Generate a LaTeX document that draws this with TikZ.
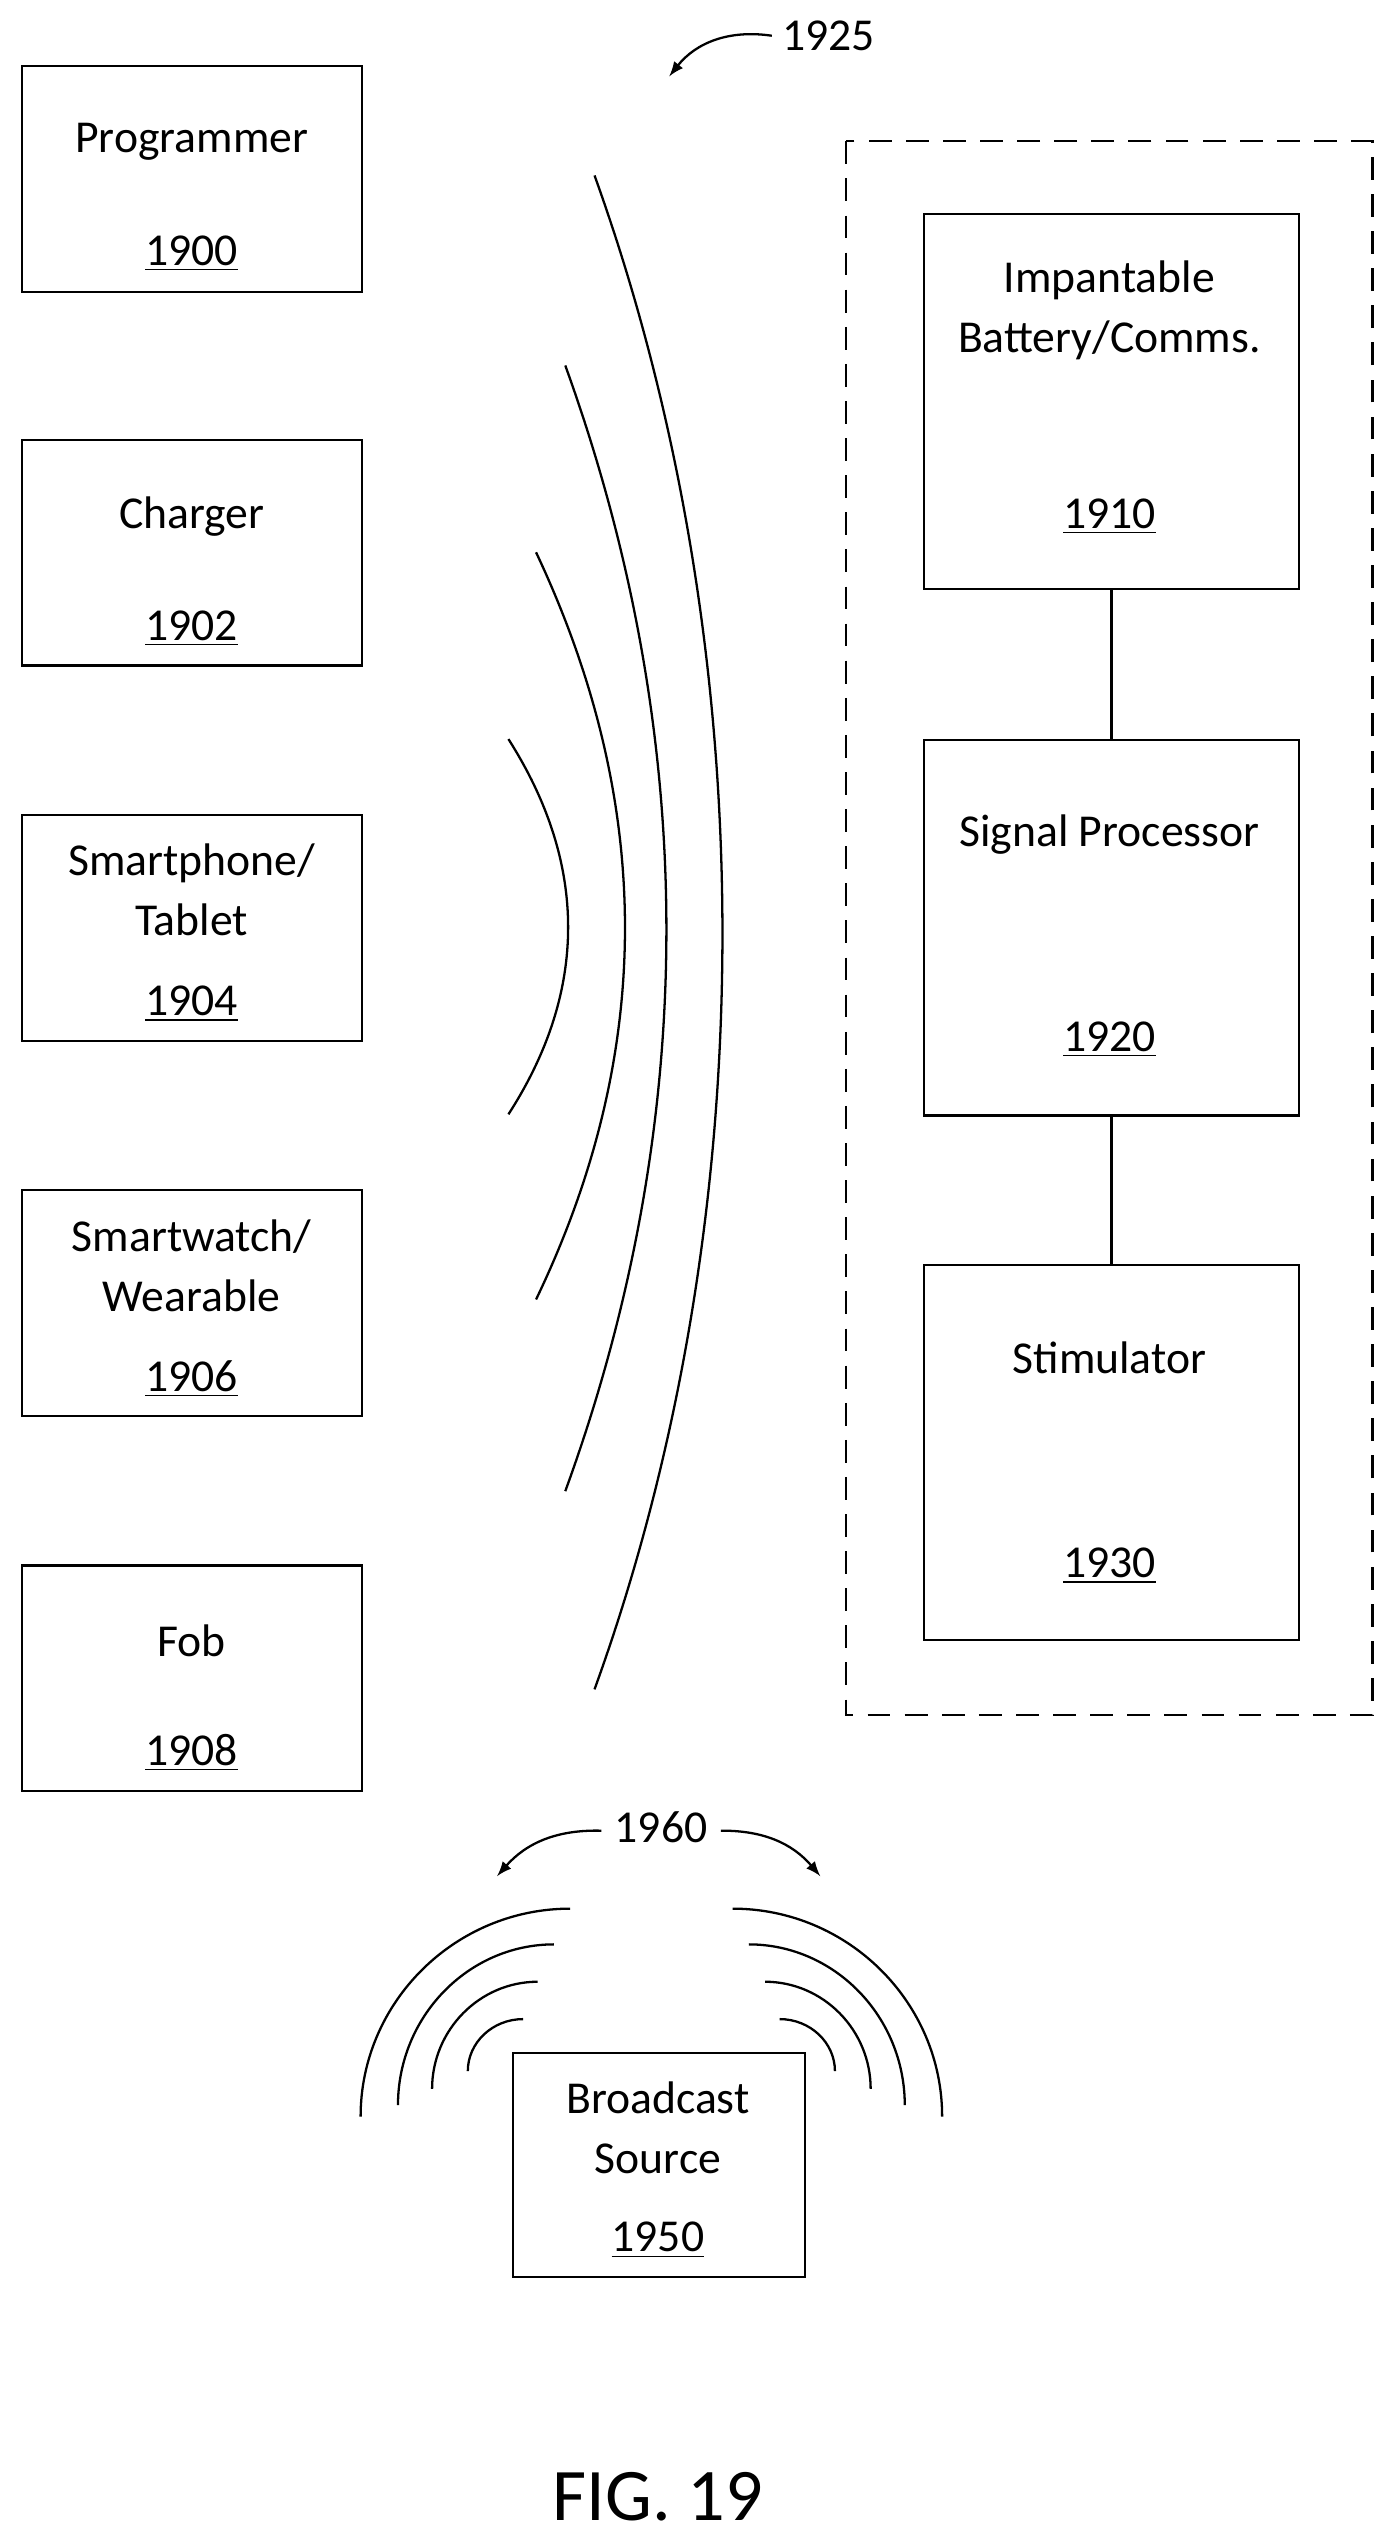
\documentclass[tikz,border=0pt]{standalone}
\usepackage{fontspec}
\setmainfont{Carlito}
\usepackage{tikz}
\begin{document}
\begin{tikzpicture}[x=0.02cm,y=-0.02cm]
	\tikzstyle{blk} = [draw,shape=rectangle,line width=0.8pt,minimum width=4.18cm,minimum height=2.78cm,anchor=north west,inner sep=0pt]
	\tikzstyle{rblk} = [draw,shape=rectangle,line width=0.8pt,minimum width=4.62cm,minimum height=4.62cm,anchor=north west,inner sep=0pt]
	\tikzstyle{lbl} = [font=\fontsize{16}{19}\selectfont,align=center,inner sep=0pt]
	\tikzstyle{wave} = [line width=0.8pt]
	\tikzstyle{ref} = [-latex,line width=0.8pt]

	\useasboundingbox (0,0) rectangle (860,1568);

	% LEFT DEVICES %
	\node[blk] (prog) at (13,40) {};
	\node[lbl] (progt) at (118,87) {Programmer};
	\node[lbl] (progn) at (118,156) {\underline{1900}};
	\node[blk] (chg) at (13,270) {};
	\node[lbl] (chgt) at (118,318) {Charger};
	\node[lbl] (chgn) at (118,387) {\underline{1902}};
	\node[blk] (phone) at (13,501) {};
	\node[lbl] (phonet) at (118,548) {Smartphone/\\[2pt]Tablet};
	\node[lbl] (phonen) at (118,618) {\underline{1904}};
	\node[blk] (watch) at (13,732) {};
	\node[lbl] (watcht) at (118,779) {Smartwatch/\\[2pt]Wearable};
	\node[lbl] (watchn) at (118,849) {\underline{1906}};
	\node[blk] (fob) at (13,963) {};
	\node[lbl] (fobt) at (118,1010) {Fob};
	\node[lbl] (fobn) at (118,1079) {\underline{1908}};

	% IMPLANT %
	\draw[dashed,line width=0.8pt,dash pattern=on 8pt off 5pt] (521,87) rectangle (845,1056);
	\node[rblk] (batt) at (568,131) {};
	\node[lbl] (battt) at (683,191) {Impantable\\[2pt]Battery/Comms.};
	\node[lbl] (battn) at (683,318) {\underline{1910}};
	\node[rblk] (sig) at (568,455) {};
	\node[lbl] (sigt) at (683,514) {Signal Processor};
	\node[lbl] (sign) at (683,640) {\underline{1920}};
	\node[rblk] (stim) at (568,778) {};
	\node[lbl] (stimt) at (683,836) {Stimulator};
	\node[lbl] (stimn) at (683,964) {\underline{1930}};
	\draw[line width=0.8pt] (batt.south) -- (sig.north);
	\draw[line width=0.8pt] (sig.south) -- (stim.north);

	% WAVES 1925 %
	\draw[wave] (366,108) .. controls (471,400) and (471,750) .. (366,1040);
	\draw[wave] (348,225) .. controls (431,455) and (431,690) .. (348,918);
	\draw[wave] (330,340) .. controls (403,495) and (403,648) .. (330,800);
	\draw[wave] (313,455) .. controls (362,532) and (362,610) .. (313,686);
	\node[lbl] (r1925) at (510,22) {1925};
	\coordinate (a1925) at (412,47);
	\draw[ref] (r1925.west) ++(-6,0) coordinate (s1925) to[bend right=30] (a1925);

	% BROADCAST %
	\node[blk,minimum width=3.6cm,minimum height=2.76cm] (bcast) at (315,1263) {};
	\node[lbl] (bcastt) at (405,1310) {Broadcast\\[2pt]Source};
	\node[lbl] (bcastn) at (405,1379) {\underline{1950}};
	\foreach \tx/\ty/\bx/\by in {322/1243/288/1275, 331/1220/266/1286, 341/1197/245/1296, 351/1175/222/1303} {
		\draw[wave] (\tx,\ty) .. controls ({\bx+0.45*(\tx-\bx)},\ty) and (\bx,{\ty+0.45*(\by-\ty)}) .. (\bx,\by);
		\draw[wave] ({802-\tx},\ty) .. controls ({802-\bx-0.45*(\tx-\bx)},\ty) and ({802-\bx},{\ty+0.45*(\by-\ty)}) .. ({802-\bx},\by);
	}
	\node[lbl] (r1960) at (407,1125) {1960};
	\coordinate (l1960) at (306,1155);
	\coordinate (rr1960) at (505,1155);
	\draw[ref] (r1960.west) ++(-8,2) to[bend right=25] (l1960);
	\draw[ref] (r1960.east) ++(8,2) to[bend left=25] (rr1960);

	\node[font=\fontsize{26}{30}\selectfont,inner sep=0pt] (fig) at (405,1537) {FIG. 19};
\end{tikzpicture}
\end{document}
